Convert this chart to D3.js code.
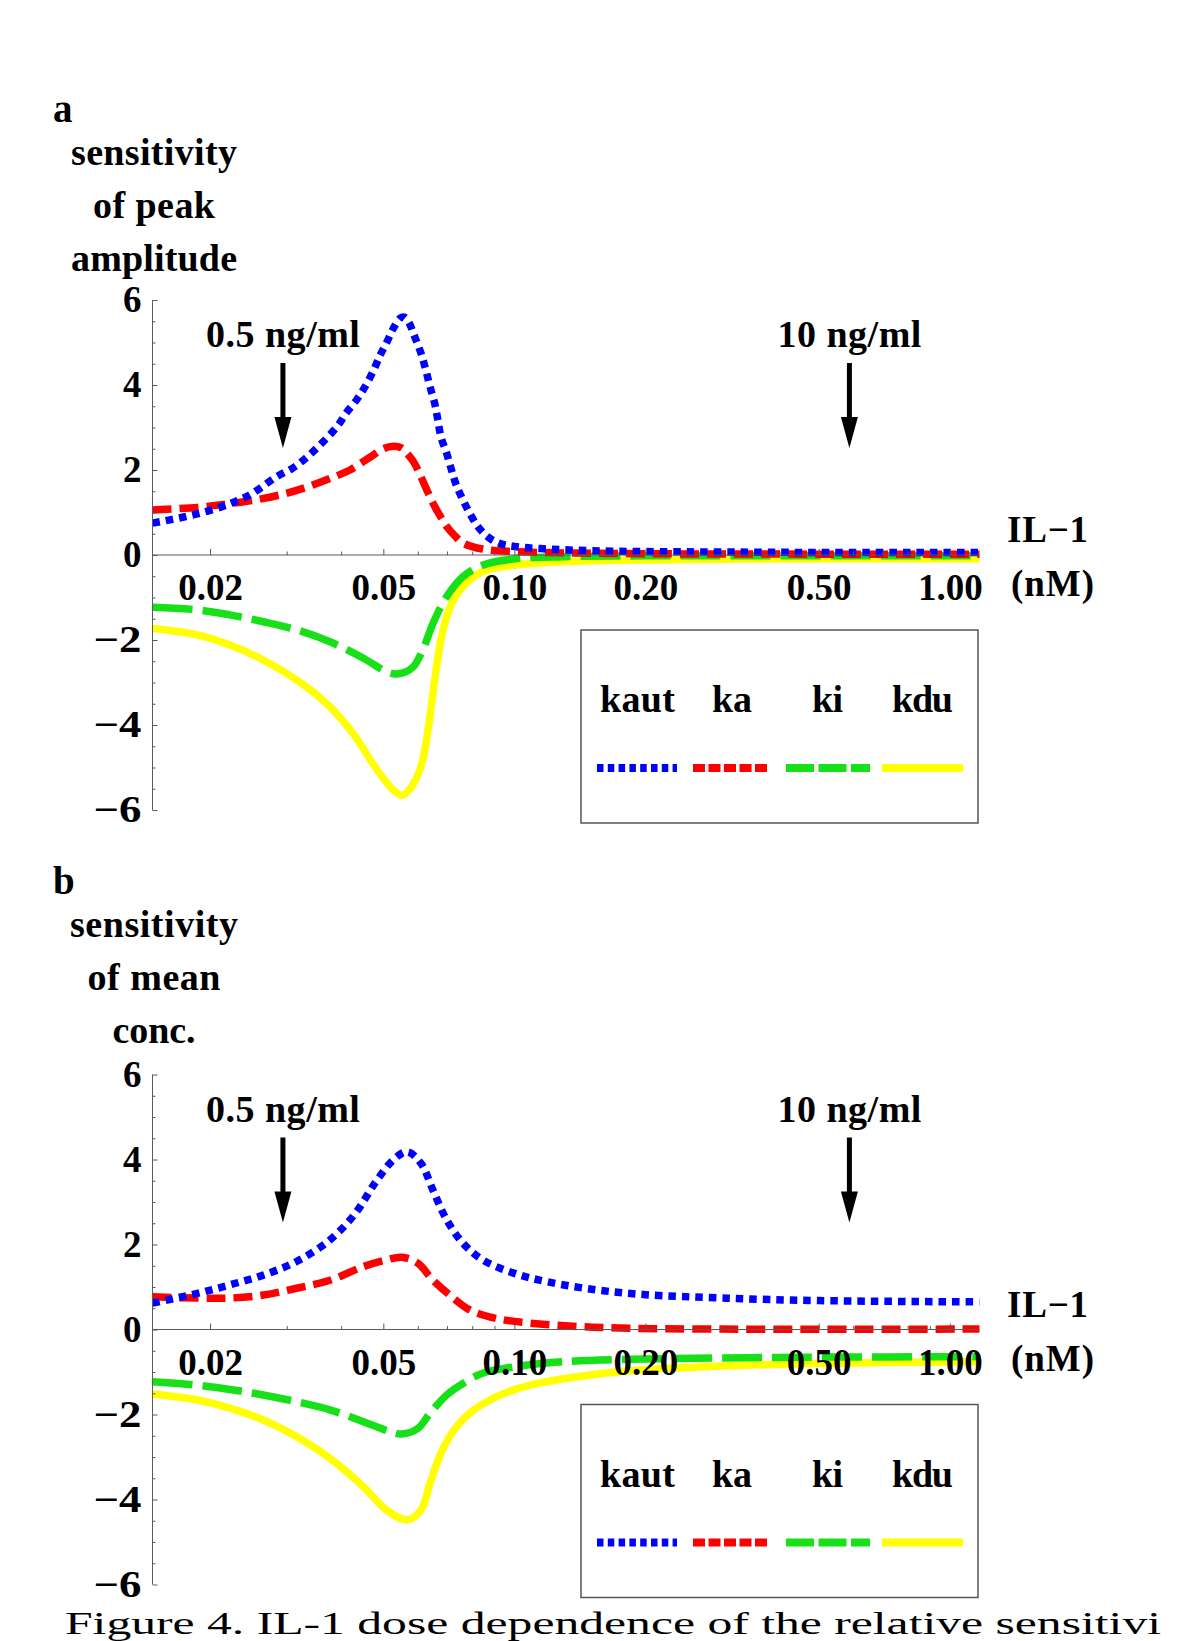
<!DOCTYPE html>
<html><head><meta charset="utf-8">
<script src="https://cdn.jsdelivr.net/npm/d3@7"></script>
<style>body{margin:0;background:#fff}svg{display:block}</style>
</head><body>
<script>
// ---------------- data ----------------
const xDomain = [0.01475, 1.17];
const yDomain = [-6, 6];
const yMajorTicks = [-6, -4, -2, 0, 2, 4, 6];
const xMajorTicks = [0.02, 0.05, 0.1, 0.2, 0.5, 1.0];
const xMinorTicks = [0.03, 0.04, 0.06, 0.07, 0.08, 0.09, 0.3, 0.4, 0.6, 0.7, 0.8, 0.9];
const xTickLabels = ["0.02", "0.05", "0.10", "0.20", "0.50", "1.00"];
const seriesNames = ["kaut", "ka", "ki", "kdu"];
const seriesColors = ["#0000ff", "#ff0000", "#18e018", "#ffff00"];
const arrowDoses = [0.0294, 0.588];
const arrowLabels = ["0.5 ng/ml", "10 ng/ml"];
const panelLetters = ["a", "b"];
const yTitleA = ["sensitivity", "of peak", "amplitude"];
const yTitleB = ["sensitivity", "of mean", "conc."];
const xTitle = ["IL\u22121", "(nM)"];
const caption = "Figure 4. IL-1 dose dependence of the relative sensitivi";

// panel a: sensitivity of peak amplitude  [IL-1 nM, sensitivity]
const peakKaut = [[0.01475,0.75],[0.0175,0.9],[0.02,1.05],[0.0225,1.23],[0.025,1.45],[0.0284,1.84],[0.0309,2.04],[0.0331,2.27],[0.0351,2.51],[0.0373,2.78],[0.0394,3.06],[0.041,3.33],[0.0434,3.65],[0.0454,3.96],[0.0475,4.35],[0.0492,4.71],[0.051,5.02],[0.0527,5.33],[0.0546,5.57],[0.0558,5.6],[0.0571,5.49],[0.059,5.14],[0.061,4.75],[0.0626,4.35],[0.064,3.96],[0.0656,3.57],[0.0667,3.18],[0.0678,2.78],[0.0699,2.39],[0.0717,2.0],[0.0735,1.65],[0.0762,1.29],[0.079,0.98],[0.0824,0.67],[0.0868,0.43],[0.092,0.28],[0.1,0.2],[0.12,0.14],[0.15,0.1],[0.2,0.08],[0.3,0.07],[0.5,0.06],[1.17,0.06]];
const peakKa = [[0.01475,1.06],[0.0187,1.12],[0.0218,1.2],[0.0252,1.29],[0.0294,1.43],[0.0334,1.6],[0.0377,1.8],[0.0419,2.0],[0.0466,2.3],[0.05,2.5],[0.0527,2.56],[0.055,2.52],[0.0567,2.39],[0.059,2.15],[0.061,1.84],[0.063,1.52],[0.065,1.22],[0.0675,0.92],[0.0699,0.67],[0.073,0.45],[0.0762,0.28],[0.0845,0.14],[0.1,0.08],[0.13,0.05],[0.2,0.03],[0.5,0.02],[1.17,0.02]];
const peakKi = [[0.01475,-1.23],[0.0187,-1.29],[0.0222,-1.41],[0.0265,-1.57],[0.0316,-1.76],[0.0377,-2.04],[0.045,-2.43],[0.0509,-2.75],[0.0535,-2.8],[0.056,-2.76],[0.0586,-2.63],[0.0618,-2.2],[0.065,-1.61],[0.0699,-0.98],[0.0762,-0.51],[0.0845,-0.24],[0.1,-0.09],[0.13,-0.04],[0.2,-0.02],[1.17,-0.02]];
const peakKdu = [[0.01475,-1.73],[0.0187,-1.88],[0.0222,-2.12],[0.0265,-2.47],[0.0316,-2.94],[0.0377,-3.57],[0.0431,-4.27],[0.0478,-4.98],[0.0527,-5.53],[0.0553,-5.65],[0.0576,-5.5],[0.061,-4.98],[0.0635,-4.04],[0.0656,-2.94],[0.0683,-1.84],[0.0718,-1.14],[0.0774,-0.67],[0.0845,-0.39],[0.1,-0.24],[0.129,-0.16],[0.184,-0.12],[0.3,-0.1],[0.5,-0.09],[1.17,-0.09]];

// panel b: sensitivity of mean concentration
const meanKaut = [[0.01475,0.62],[0.0187,0.85],[0.0222,1.05],[0.0265,1.28],[0.0316,1.6],[0.0377,2.11],[0.0431,2.73],[0.0478,3.44],[0.0527,3.99],[0.0567,4.18],[0.061,3.91],[0.065,3.28],[0.0699,2.58],[0.0762,2.03],[0.0845,1.64],[0.1,1.32],[0.1193,1.12],[0.155,0.93],[0.2,0.82],[0.3,0.74],[0.5,0.68],[1.17,0.65]];
const meanKa = [[0.01475,0.77],[0.0187,0.74],[0.0222,0.74],[0.0265,0.81],[0.0316,0.97],[0.0377,1.16],[0.045,1.48],[0.0509,1.64],[0.0551,1.7],[0.06,1.56],[0.065,1.16],[0.0718,0.77],[0.079,0.46],[0.091,0.26],[0.1085,0.15],[0.14,0.07],[0.184,0.03],[0.3,0.01],[1.17,0.01]];
const meanKi = [[0.01475,-1.23],[0.0187,-1.31],[0.0222,-1.41],[0.0265,-1.54],[0.0316,-1.7],[0.0377,-1.89],[0.045,-2.17],[0.0517,-2.4],[0.0551,-2.46],[0.06,-2.33],[0.064,-1.97],[0.0699,-1.54],[0.0762,-1.27],[0.0845,-1.03],[0.1,-0.88],[0.129,-0.76],[0.184,-0.7],[0.3,-0.67],[0.5,-0.65],[1.17,-0.64]];
const meanKdu = [[0.01475,-1.52],[0.0187,-1.66],[0.0222,-1.85],[0.0265,-2.13],[0.0316,-2.52],[0.0377,-3.03],[0.045,-3.7],[0.0509,-4.25],[0.0567,-4.48],[0.061,-4.25],[0.064,-3.62],[0.0673,-2.99],[0.0718,-2.44],[0.079,-1.97],[0.091,-1.58],[0.1085,-1.31],[0.14,-1.11],[0.184,-0.97],[0.3,-0.86],[0.5,-0.8],[1.17,-0.76]];

// ---------------- layout / style ----------------
const W = 1200, H = 1641;
const FONT = "'Liberation Serif','Times New Roman',Times,serif";
const AXIS = "#5a5a5a";
const plotDash = ["7.5,6", "19,8", "40,10", null];
const legendDash = ["6.5,4.3", "12,3.5", "28,4.5", null];

const svg = d3.select("body").append("svg")
  .attr("width", W).attr("height", H)
  .attr("viewBox", `0 0 ${W} ${H}`);
svg.append("rect").attr("width", W).attr("height", H).attr("fill", "#fff");

const panels = [
  { letter: panelLetters[0], title: yTitleA, series: [peakKaut, peakKa, peakKi, peakKdu], dy: 0, tdy: 0, tw: [166, 122, 166] },
  { letter: panelLetters[1], title: yTitleB, series: [meanKaut, meanKa, meanKi, meanKdu], dy: 774.5, tdy: 772, tw: [168, 133, 83] }
];

function boldText(g, str, x, y, size, anchor, len, adj) {
  const t = g.append("text").attr("x", x).attr("y", y)
    .attr("font-family", FONT).attr("font-weight", "bold")
    .attr("font-size", size).attr("text-anchor", anchor || "start")
    .attr("fill", "#000").text(str);
  if (len) t.attr("textLength", len).attr("lengthAdjust", adj || "spacing");
  return t;
}

panels.forEach((p) => {
  const g = svg.append("g");
  const x = d3.scaleLog().domain(xDomain).range([152.5, 979.5]);
  const y = d3.scaleLinear().domain(yDomain).range([810 + p.dy, 300 + p.dy]);
  const x0 = x(xDomain[0]);
  const y0 = y(0);

  // panel letter and y-axis title
  boldText(g, p.letter, 53, 122 + p.tdy, 39, "start");
  p.title.forEach((line, i) => {
    boldText(g, line, 154, 165 + p.tdy + i * 53, 38, "middle", p.tw[i]);
  });

  // curves (kdu drawn first, kaut last)
  const line = d3.line().x(d => x(d[0])).y(d => y(d[1])).curve(d3.curveCatmullRom.alpha(0.5));
  [3, 2, 1, 0].forEach(k => {
    const path = g.append("path").datum(p.series[k])
      .attr("d", line).attr("fill", "none")
      .attr("stroke", seriesColors[k]).attr("stroke-width", 7.5)
      .attr("stroke-linejoin", "round");
    if (plotDash[k]) path.attr("stroke-dasharray", plotDash[k]);
  });

  // y axis: minor ticks
  const yMinor = d3.range(-6, 6.001, 0.5).filter(v => Math.abs(v % 2) > 1e-9);
  const yMinG = g.append("g").attr("transform", `translate(${x0},0)`)
    .call(d3.axisLeft(y).tickValues(yMinor).tickSize(-3).tickFormat(""));
  yMinG.select(".domain").remove();
  yMinG.selectAll("line").attr("stroke", AXIS);
  // y axis: major ticks + labels
  const yMajG = g.append("g").attr("transform", `translate(${x0},0)`)
    .call(d3.axisLeft(y).tickValues(yMajorTicks).tickSize(-5).tickPadding(11).tickFormat(d3.format("d")));
  yMajG.select(".domain").attr("stroke", AXIS).attr("d", `M0,${y(6)}H0V${y(-6)}H0`);
  yMajG.selectAll("line").attr("stroke", AXIS);
  yMajG.selectAll("text").attr("font-family", FONT).attr("font-weight", "bold")
    .attr("font-size", 37).attr("fill", "#000")
    .each(function (d) { if (d < 0) d3.select(this).attr("textLength", 48).attr("lengthAdjust", "spacingAndGlyphs"); });

  // x axis: minor ticks
  const xMinG = g.append("g").attr("transform", `translate(0,${y0})`)
    .call(d3.axisBottom(x).tickValues(xMinorTicks).tickSize(-3.5).tickFormat(""));
  xMinG.select(".domain").remove();
  xMinG.selectAll("line").attr("stroke", AXIS);
  // x axis: major ticks + labels
  const xMajG = g.append("g").attr("transform", `translate(0,${y0})`)
    .call(d3.axisBottom(x).tickValues(xMajorTicks).tickSize(-6).tickPadding(19)
      .tickFormat((d, i) => xTickLabels[i]));
  xMajG.select(".domain").attr("stroke", AXIS).attr("d", `M${x0},0H${x(xDomain[1])}`);
  xMajG.selectAll("line").attr("stroke", AXIS);
  xMajG.selectAll("text").attr("font-family", FONT).attr("font-weight", "bold")
    .attr("font-size", 37).attr("fill", "#000");

  // x-axis title
  boldText(g, xTitle[0], 1007, 542 + p.dy, 37, "start", 81);
  boldText(g, xTitle[1], 1011, 596 + p.dy, 37, "start", 83);

  // dose arrows
  arrowDoses.forEach((dose, i) => {
    const ax = x(dose);
    boldText(g, arrowLabels[i], ax, 347 + p.dy, 38, "middle", i === 0 ? 154 : 144);
    g.append("line").attr("x1", ax).attr("x2", ax)
      .attr("y1", 363 + p.dy).attr("y2", 420 + p.dy)
      .attr("stroke", "#000").attr("stroke-width", 5);
    g.append("path")
      .attr("d", `M${ax - 8.5},${417 + p.dy}L${ax + 8.5},${417 + p.dy}L${ax},${448 + p.dy}Z`)
      .attr("fill", "#000");
  });

  // legend
  const lg = g.append("g");
  lg.append("rect").attr("x", 581).attr("y", 630 + p.dy).attr("width", 397).attr("height", 193)
    .attr("fill", "#fff").attr("stroke", "#555").attr("stroke-width", 1.5);
  const lx = [600, 712, 812, 892];
  const lw = [75, 40, 31, 61];
  const segs = [[597, 677], [693, 768], [786, 870], [882, 963]];
  seriesNames.forEach((name, k) => {
    boldText(lg, name, lx[k], 712 + p.dy, 38, "start", lw[k]);
    const s = lg.append("line").attr("x1", segs[k][0]).attr("x2", segs[k][1])
      .attr("y1", 768 + p.dy).attr("y2", 768 + p.dy)
      .attr("stroke", seriesColors[k]).attr("stroke-width", 8);
    if (legendDash[k]) s.attr("stroke-dasharray", legendDash[k]);
  });
});

// caption: cut off by the bottom edge in the original; here kept inside the page,
// vertically condensed so it fits the strip below the lower panel
svg.append("text")
  .attr("transform", "translate(65,1633.5) scale(1,0.69)")
  .attr("x", 0).attr("y", 0)
  .attr("font-family", FONT).attr("font-size", 46).attr("fill", "#000")
  .attr("textLength", 1096).attr("lengthAdjust", "spacingAndGlyphs")
  .text(caption);
</script>
</body></html>
